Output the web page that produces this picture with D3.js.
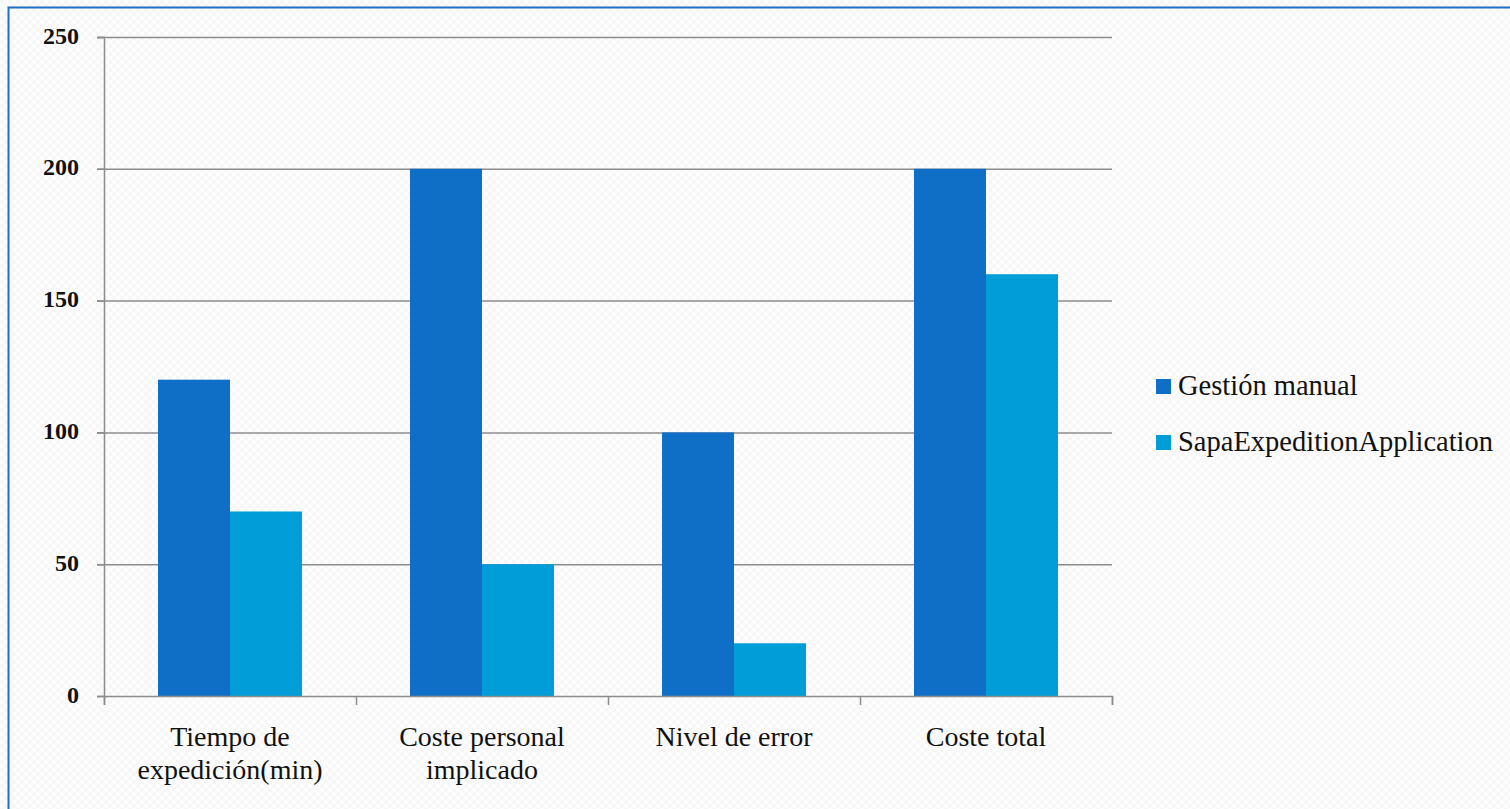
<!DOCTYPE html>
<html>
<head>
<meta charset="utf-8">
<script src="https://cdn.jsdelivr.net/npm/d3@7"></script>
<style>
  html, body { margin: 0; padding: 0; background: #fcfcfc; }
  svg { display: block; }
</style>
</head>
<body>
<script>
// Chart data
const categories = [["Tiempo de", "expedición(min)"], ["Coste personal", "implicado"], ["Nivel de error"], ["Coste total"]];
const seriesNames = ["Gestión manual", "SapaExpeditionApplication"];
const manual = [120, 200, 100, 200];
const sapa = [70, 50, 20, 160];
const yTicks = [0, 50, 100, 150, 200, 250];
const colors = ["#0F6FC6", "#009DD9"];

const W = 1510, H = 809;
const margin = { left: 104, right: 1112, top: 37, bottom: 696 };
const font = "'Liberation Serif', 'DejaVu Serif', serif";

const svg = d3.select("body").append("svg").attr("width", W).attr("height", H);

// Light textured background
const defs = svg.append("defs");
const pat = defs.append("pattern").attr("id", "bgtex").attr("width", 8).attr("height", 8)
  .attr("patternUnits", "userSpaceOnUse");
pat.append("rect").attr("width", 8).attr("height", 8).attr("fill", "#fdfdfd");
pat.append("rect").attr("width", 4).attr("height", 4).attr("fill", "#f7f7f7");
pat.append("rect").attr("x", 4).attr("y", 4).attr("width", 4).attr("height", 4).attr("fill", "#f7f7f7");
svg.append("rect").attr("width", W).attr("height", H).attr("fill", "url(#bgtex)");

// Frame
svg.append("rect").attr("x", 8.5).attr("y", 7.5).attr("width", W + 20).attr("height", H + 20)
  .attr("fill", "none").attr("stroke", "#1F6FC6").attr("stroke-width", 2);

const keys = categories.map((c, i) => i);
const x = d3.scaleBand().domain(keys).range([margin.left, margin.right]);
const xInner = d3.scaleBand().domain([0, 1]).range([0, x.bandwidth()]).paddingInner(0).paddingOuter(0.75);
const y = d3.scaleLinear().domain([0, 250]).range([margin.bottom, margin.top]);

// Gridlines
svg.append("g").selectAll("line").data(yTicks.filter(t => t > 0)).join("line")
  .attr("x1", margin.left - 7).attr("x2", margin.right)
  .attr("y1", d => y(d) + 0.5).attr("y2", d => y(d) + 0.5)
  .attr("stroke", "#8c8c8c").attr("stroke-width", 1.5);

// Bars
const rows = keys.map(i => [manual[i], sapa[i]]);
const groups = svg.append("g").selectAll("g").data(rows).join("g")
  .attr("transform", (d, i) => `translate(${x(i)},0)`);
groups.selectAll("rect").data(d => d).join("rect")
  .attr("x", (d, j) => xInner(j))
  .attr("width", xInner.bandwidth())
  .attr("y", d => y(d))
  .attr("height", d => y(0) - y(d))
  .attr("fill", (d, j) => colors[j]);

// Y axis
const yAxis = svg.append("g").attr("transform", `translate(${margin.left},0)`)
  .call(d3.axisLeft(y).tickValues(yTicks).tickSize(7).tickPadding(18));
yAxis.select(".domain").attr("stroke", "#8c8c8c").attr("stroke-width", 1.5);
yAxis.selectAll(".tick line").attr("stroke", "#8c8c8c").attr("stroke-width", 1.5);
yAxis.selectAll(".tick text").attr("font-family", font).attr("font-size", 24)
  .attr("font-weight", "bold").attr("fill", "#111").attr("dy", "0.25em");

// X axis
const xAxis = svg.append("g").attr("transform", `translate(0,${margin.bottom})`)
  .call(d3.axisBottom(d3.scaleLinear().domain([0, 4]).range([margin.left, margin.right]))
    .tickValues([0, 1, 2, 3, 4]).tickSize(9).tickFormat(""));
xAxis.select(".domain").attr("stroke", "#8c8c8c").attr("stroke-width", 1.5);
xAxis.selectAll(".tick line").attr("stroke", "#8c8c8c").attr("stroke-width", 1.5);

// Category labels
const labels = svg.append("g").selectAll("text").data(categories).join("text")
  .attr("x", (d, i) => x(i) + x.bandwidth() / 2)
  .attr("y", 746)
  .attr("text-anchor", "middle")
  .attr("font-family", font).attr("font-size", 28).attr("fill", "#111");
labels.selectAll("tspan").data(d => d).join("tspan")
  .attr("x", function () { return d3.select(this.parentNode).attr("x"); })
  .attr("dy", (d, k) => k === 0 ? 0 : 33)
  .text(d => d);

// Legend
const legend = svg.append("g").selectAll("g").data(seriesNames).join("g")
  .attr("transform", (d, i) => `translate(1156,${379 + i * 56})`);
legend.append("rect").attr("width", 15).attr("height", 15).attr("fill", (d, i) => colors[i]);
legend.append("text").attr("x", 22).attr("y", 16)
  .attr("font-family", font).attr("font-size", 28.5).attr("fill", "#111").text(d => d);
</script>
</body>
</html>
